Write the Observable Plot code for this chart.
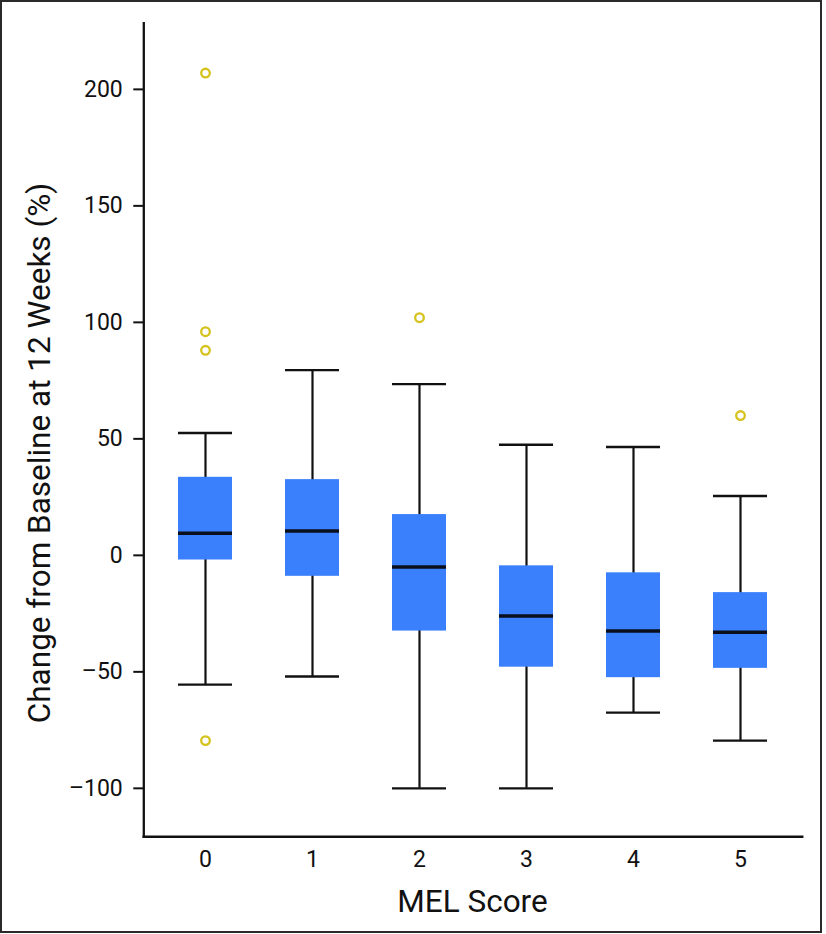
<!DOCTYPE html>
<html><head><meta charset="utf-8">
<script src="https://cdn.jsdelivr.net/npm/d3@7"></script>
<script src="https://cdn.jsdelivr.net/npm/@observablehq/plot@0.6"></script>
<style>
body{margin:0;background:#fff;}
#wrap{position:relative;width:826px;height:934px;}
#border{position:absolute;left:0;top:0;width:822px;height:933px;border:2px solid #2a2a2a;box-sizing:border-box;pointer-events:none;}
svg{display:block;}
</style></head><body>
<div id="wrap"><div id="border"></div></div>
<script>
const categories = ["0","1","2","3","4","5"];
const whiskerLow  = [-55.5, -52, -100, -100, -67.5, -79.5];
const q1          = [-2, -9, -32.5, -48, -52.5, -48.5];
const median      = [9.5, 10.5, -5, -26, -32.5, -33];
const q3          = [33.5, 32.5, 17.5, -4.5, -7.5, -16];
const whiskerHigh = [52.5, 79.5, 73.5, 47.5, 46.5, 25.5];
const outlierGroup = ["0","0","0","0","2","5"];
const outlierValue = [207, 96, 88, -79.5, 102, 60];
const yTicks = [-100, -50, 0, 50, 100, 150, 200];
const xLabel = "MEL Score";
const yLabel = "Change from Baseline at 12 Weeks (%)";

const boxes = categories.map((c, i) => ({cat: c, lo: whiskerLow[i], q1: q1[i], med: median[i], q3: q3[i], hi: whiskerHigh[i]}));
const outliers = outlierGroup.map((g, i) => ({cat: g, v: outlierValue[i]}));

const ink = "#111";
const chart = Plot.plot({
  width: 826, height: 934,
  marginLeft: 143.3, marginRight: 24.3, marginTop: 22.7, marginBottom: 97.7,
  style: {fontFamily: "Roboto, sans-serif", fontSize: "23px", color: ink, background: "transparent"},
  x: {domain: categories, paddingInner: 0.496, paddingOuter: 0.32},
  y: {domain: [-120.8, 228.4]},
  marks: [
    Plot.axisY({ticks: yTicks, tickSize: 10, tickPadding: 11, strokeWidth: 2, label: null, tickFormat: d => String(d).replace("-", "\u2013")}),
    Plot.axisX({tickSize: 0, tickPadding: 14, label: null}),
    Plot.frame({anchor: "left", stroke: ink, strokeWidth: 2.3}),
    Plot.frame({anchor: "bottom", stroke: ink, strokeWidth: 2.5}),
    Plot.ruleX(boxes, {x: "cat", y1: "lo", y2: "hi", stroke: ink, strokeWidth: 2.2}),
    Plot.tickY(boxes, {x: "cat", y: "lo", stroke: ink, strokeWidth: 2.4}),
    Plot.tickY(boxes, {x: "cat", y: "hi", stroke: ink, strokeWidth: 2.4}),
    Plot.barY(boxes, {x: "cat", y1: "q1", y2: "q3", fill: "#3a7ffc"}),
    Plot.tickY(boxes, {x: "cat", y: "med", stroke: "#0b0f1c", strokeWidth: 3.5}),
    Plot.dot(outliers, {x: "cat", y: "v", r: 4.3, stroke: "#d6c21c", strokeWidth: 2.3, fill: "white"})
  ]
});

const svg = d3.select(chart);
svg.append("text")
  .attr("transform", "translate(50,453) rotate(-90)")
  .attr("text-anchor", "middle")
  .attr("font-size", 31.5)
  .attr("fill", ink)
  .text(yLabel);
svg.append("text")
  .attr("x", 472.5).attr("y", 911.5)
  .attr("text-anchor", "middle")
  .attr("font-size", 31.5)
  .attr("fill", ink)
  .text(xLabel);

document.getElementById("wrap").prepend(chart);
</script>
</body></html>
